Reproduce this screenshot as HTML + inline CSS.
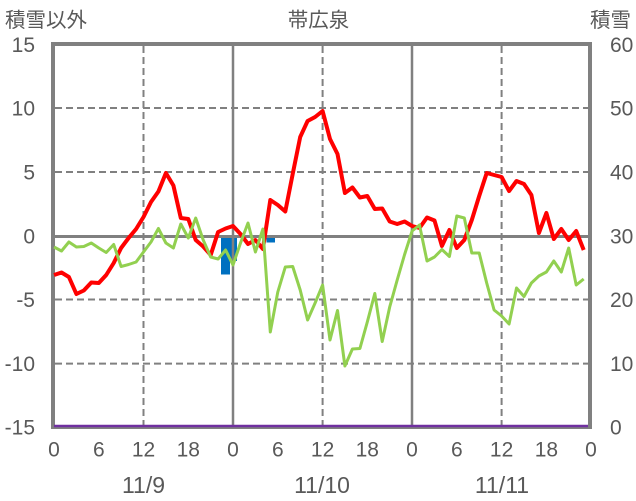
<!DOCTYPE html>
<html>
<head>
<meta charset="utf-8">
<style>
  html, body { margin:0; padding:0; background:#fff; }
  svg { display:block; }
  text { font-family: "Liberation Sans", "Noto Sans CJK JP", sans-serif; fill:#595959; }
</style>
</head>
<body>
<svg width="636" height="501" viewBox="0 0 636 501" xmlns="http://www.w3.org/2000/svg">
  <rect x="0" y="0" width="636" height="501" fill="#fff"/>

  <!-- bars -->
  <rect x="221" y="236" width="9" height="38.5" fill="#0070C0"/>
  <rect x="230" y="236" width="7" height="25" fill="#0070C0"/>
  <rect x="266.5" y="236" width="8.5" height="6.5" fill="#0070C0"/>

  <!-- grid -->
  <g stroke="#808080" stroke-width="2" stroke-dasharray="7,4" fill="none">
    <line x1="55" y1="108" x2="588" y2="108"/>
    <line x1="55" y1="172" x2="588" y2="172"/>
    <line x1="55" y1="299.5" x2="588" y2="299.5"/>
    <line x1="55" y1="363.6" x2="588" y2="363.6"/>
    <line x1="143.5" y1="46" x2="143.5" y2="425"/>
    <line x1="322.6" y1="46" x2="322.6" y2="425"/>
    <line x1="501.6" y1="46" x2="501.6" y2="425"/>
  </g>
  <g stroke="#808080" fill="none">
    <line x1="55" y1="236.5" x2="588" y2="236.5" stroke-width="3"/>
    <line x1="233" y1="46" x2="233" y2="425" stroke-width="2.5"/>
    <line x1="412" y1="46" x2="412" y2="425" stroke-width="2.5"/>
  </g>

  <!-- frame -->
  <rect x="53" y="44" width="537" height="383" fill="none" stroke="#808080" stroke-width="4"/>
  <line x1="54" y1="426" x2="588" y2="426" stroke="#7030A0" stroke-width="2.5"/>

  <!-- red series -->
  <polyline fill="none" stroke="#FF0000" stroke-width="4" stroke-linejoin="round" points="
54,275 61.5,272.5 68.9,277 76.4,294 83.8,290.5 91.3,282.5 98.8,283 106.2,275 113.7,263 121.1,248
128.6,238 136.1,229 143.5,217 151,202 158.4,191.5 165.9,173 173.4,185.5 180.8,218 188.3,219 195.7,240
203.2,246.5 210.7,255 218.1,232 225.6,228.5 233,226 240.5,234 248,244 255.4,240 262.9,249 270.3,200
277.8,205 285.3,211.5 292.7,174 300.2,137 307.6,121 315.1,117 322.6,111 330,139 337.5,154 344.9,193
352.4,187.5 359.9,197.5 367.3,196 374.8,209 382.2,208.5 389.7,221.5 397.2,224 404.6,221.5 412.1,226 419.5,228
427,217.5 434.5,220.5 441.9,246 449.4,230 456.8,248 464.3,240 471.8,220 479.2,196 486.7,173 494.1,175
501.6,177 509.1,191 516.5,181 524,184 531.4,195 538.9,233 546.4,213 553.8,239 561.3,229 568.7,240
576.2,231 583.7,250"/>

  <!-- green series -->
  <polyline fill="none" stroke="#92D050" stroke-width="3" stroke-linejoin="round" points="
54,247 61.5,251 68.9,242 76.4,247 83.8,246.5 91.3,243 98.8,248 106.2,252.5 113.7,244.5 121.1,266.5
128.6,264.5 136.1,262 143.5,252 151,242 158.4,228.5 165.9,243 173.4,248 180.8,224 188.3,238 195.7,218
203.2,240 210.7,257 218.1,259 225.6,250 233,265 240.5,243 248,223 255.4,252 262.9,229 270.3,332
277.8,292 285.3,267 292.7,266.5 300.2,290 307.6,320 315.1,303 322.6,285 330,340 337.5,310.5 344.9,366
352.4,349 359.9,348.5 367.3,322 374.8,293.5 382.2,341.5 389.7,307 397.2,280 404.6,254.5 412.1,231 419.5,225
427,261 434.5,257 441.9,249.5 449.4,256.5 456.8,216 464.3,218 471.8,253 479.2,253 486.7,283 494.1,310
501.6,316 509.1,324 516.5,288 524,296.5 531.4,283 538.9,276 546.4,272 553.8,261 561.3,272 568.7,248
576.2,285 583.7,279"/>

  <!-- titles -->
  <text x="5" y="27" font-size="20.5">積雪以外</text>
  <text x="318.5" y="27" font-size="20.5" text-anchor="middle">帯広泉</text>
  <text x="590" y="27" font-size="20.5">積雪</text>

  <!-- left axis labels -->
  <g font-size="21" text-anchor="end">
    <text x="35" y="52">15</text>
    <text x="35" y="115.5">10</text>
    <text x="35" y="179.5">5</text>
    <text x="35" y="243.5">0</text>
    <text x="35" y="307">-5</text>
    <text x="35" y="371">-10</text>
    <text x="35" y="434.5">-15</text>
  </g>
  <!-- right axis labels -->
  <g font-size="21">
    <text x="610" y="52">60</text>
    <text x="610" y="115.5">50</text>
    <text x="610" y="179.5">40</text>
    <text x="610" y="243.5">30</text>
    <text x="610" y="307">20</text>
    <text x="610" y="371">10</text>
    <text x="610" y="434.5">0</text>
  </g>
  <!-- x axis labels -->
  <g font-size="21" text-anchor="middle">
    <text x="54" y="456.5">0</text>
    <text x="98.8" y="456.5">6</text>
    <text x="143.5" y="456.5">12</text>
    <text x="188.3" y="456.5">18</text>
    <text x="233" y="456.5">0</text>
    <text x="277.8" y="456.5">6</text>
    <text x="322.6" y="456.5">12</text>
    <text x="367.3" y="456.5">18</text>
    <text x="412" y="456.5">0</text>
    <text x="456.8" y="456.5">6</text>
    <text x="501.6" y="456.5">12</text>
    <text x="546.4" y="456.5">18</text>
    <text x="591" y="456.5">0</text>
  </g>
  <g font-size="23" text-anchor="middle">
    <text x="143.5" y="493">11/9</text>
    <text x="322" y="493">11/10</text>
    <text x="502" y="493">11/11</text>
  </g>
</svg>
</body>
</html>
